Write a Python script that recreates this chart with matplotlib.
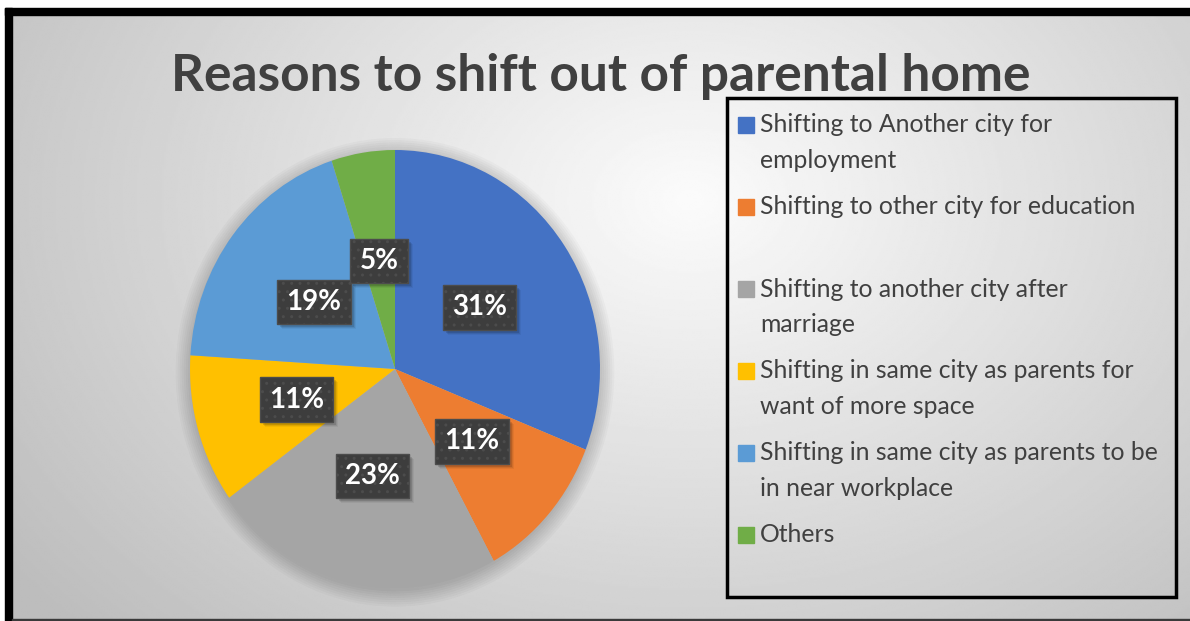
import numpy as np
import matplotlib
matplotlib.use("Agg")
import matplotlib.pyplot as plt
from matplotlib.patches import Rectangle, Ellipse
from matplotlib.transforms import IdentityTransform

# --- data ---------------------------------------------------------------
categories = [
    "Shifting to Another city for\nemployment",
    "Shifting to other city for education\n ",
    "Shifting to another city after\nmarriage",
    "Shifting in same city as parents for\nwant of more space",
    "Shifting in same city as parents to be\nin near workplace",
    "Others",
]
shares = [31, 11, 23, 11, 19, 5]
colors = ["#4472C4", "#ED7D31", "#A5A5A5", "#FFC000", "#5B9BD5", "#70AD47"]
title = "Reasons to shift out of parental home"

W, H = 1190, 621
fig = plt.figure(figsize=(W / 100, H / 100), dpi=100, facecolor="white")


def fx(x):
    return x / W


def fy(y):
    return 1 - y / H


# --- gradient background -------------------------------------------------
bg = fig.add_axes([fx(12), fy(619), fx(1190) - fx(12), fy(15) - fy(619)])
bg.set_axis_off()
gx, gy = np.meshgrid(np.linspace(12, 1190, 600), np.linspace(15, 619, 320))
d = np.sqrt(((gx - 690) / 760) ** 2 + ((gy - 200) / 560) ** 2)
shade = np.clip(0.985 - 0.22 * d, 0.74, 1.0)
bg.imshow(shade, cmap="gray", vmin=0, vmax=1, aspect="auto",
          extent=[0, 1, 0, 1], interpolation="bilinear")
bg.set_xlim(0, 1)
bg.set_ylim(0, 1)

# frame lines
fig.patches.append(Rectangle((fx(5), fy(15)), 1 - fx(5), fy(8) - fy(15),
                             transform=fig.transFigure, color="black", zorder=5))
fig.patches.append(Rectangle((fx(5), 0), fx(12) - fx(5), fy(8),
                             transform=fig.transFigure, color="black", zorder=5))
fig.patches.append(Rectangle((fx(12), 0), 1 - fx(12), fy(619),
                             transform=fig.transFigure, color="#3a3a3a", zorder=5))

# --- title ---------------------------------------------------------------
fig.text(fx(601), fy(76), title, ha="center", va="center", fontsize=37,
         fontweight="bold", family="Lato", color="#404040")

# --- pie -----------------------------------------------------------------
ax = fig.add_axes([fx(190), fy(588), fx(600) - fx(190), fy(150) - fy(588)])
ax.set_axis_off()

# soft shadow behind the pie
for k in range(8):
    r = 1.0 + 0.01 * k
    ax.add_patch(Ellipse((0.0, -0.015), 2 * r, 2 * r, color="black",
                         alpha=0.022, lw=0, zorder=0, clip_on=False))

wedges, texts, autotexts = ax.pie(
    shares, colors=colors, startangle=90, counterclock=False,
    autopct=lambda p: f"{p:.0f}%", pctdistance=0.5,
    wedgeprops=dict(linewidth=0),
)
ax.set_aspect("auto")
ax.set_xlim(-1, 1)
ax.set_ylim(-1, 1)
for w in wedges:
    w.set_zorder(2)

plt.rcParams["hatch.linewidth"] = 1.0
for t in autotexts:
    t.set_color("white")
    t.set_fontsize(20)
    t.set_fontweight("bold")
    t.set_family("Lato")
    t.set_zorder(4)
    t.set_bbox(dict(boxstyle="square,pad=0.33", facecolor="#3d3d3d",
                    edgecolor="#4c4c4c", hatch="..", linewidth=1))

# drop shadows under the label boxes, placed from their rendered extents
fig.canvas.draw()
renderer = fig.canvas.get_renderer()
for t in autotexts:
    bb = t.get_bbox_patch().get_window_extent(renderer)
    for off, a in [(3, 0.12), (4, 0.08), (5, 0.05)]:
        ax.add_patch(Rectangle((bb.x0 + off, bb.y0 - off), bb.width, bb.height,
                               transform=IdentityTransform(), facecolor="black",
                               alpha=a, edgecolor="none", zorder=3,
                               clip_on=False))

# --- legend --------------------------------------------------------------
fig.patches.append(Rectangle((fx(727), fy(597)), fx(1176) - fx(727),
                             fy(98) - fy(597), transform=fig.transFigure,
                             facecolor="none", edgecolor="black", lw=2.5, zorder=6))

line_gap, entry_gap = 35, 47
y = 125
for label, col in zip(categories, colors):
    fig.patches.append(Rectangle((fx(738), fy(y + 8)), fx(16), 16 / H,
                                 transform=fig.transFigure, color=col, zorder=6))
    lines = label.split("\n")
    for i, line in enumerate(lines):
        fig.text(fx(760), fy(y + i * line_gap), line, ha="left", va="center",
                 fontsize=17.8, family="Lato", color="#404040", zorder=6)
    y += (len(lines) - 1) * line_gap + entry_gap

fig.savefig("out.png", dpi=100, facecolor="white")
